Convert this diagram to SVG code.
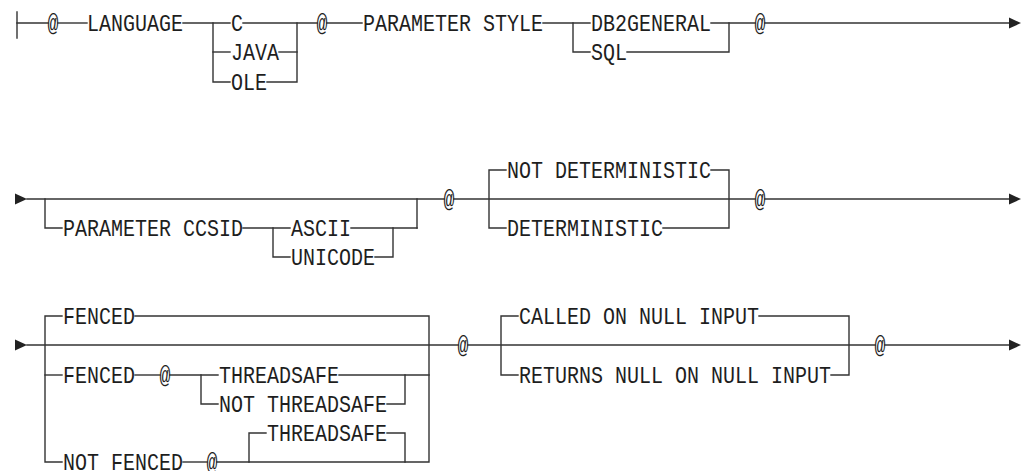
<svg xmlns="http://www.w3.org/2000/svg" width="1024" height="471" viewBox="0 0 1024 471">
<style>
.t{font-family:"Liberation Mono","DejaVu Sans Mono",monospace;font-size:23px;fill:#1e1e1e}
.m{text-anchor:middle}
.c line,.c polyline{stroke:#333;stroke-width:1.4;fill:none;stroke-linecap:square}
.a{fill:#222}
</style>
<defs>
<path id="ah" d="M0,-5.5 L12,0 L0,5.5 Z"/>
</defs>
<rect width="1024" height="471" fill="#fff"/>
<g class="c" id="connectors">
<!-- row 1 -->
<line x1="17" y1="12" x2="17" y2="38"/>
<line x1="17" y1="23" x2="48" y2="23"/>
<line x1="58" y1="23" x2="87" y2="23"/>
<line x1="183" y1="23" x2="230" y2="23"/>
<line x1="243" y1="23" x2="317" y2="23"/>
<line x1="327" y1="23" x2="362" y2="23"/>
<line x1="543" y1="23" x2="590" y2="23"/>
<line x1="711" y1="23" x2="755" y2="23"/>
<line x1="765" y1="23" x2="1010" y2="23"/>
<polyline points="213,23 213,82 230,82"/>
<line x1="213" y1="52" x2="230" y2="52"/>
<line x1="279" y1="52" x2="297" y2="52"/>
<polyline points="267,82 297,82 297,23"/>
<polyline points="573,23 573,52 590,52"/>
<polyline points="627,52 729,52 729,23"/>
<use href="#ah" class="a" x="1009" y="23"/>
<!-- row 2 -->
<use href="#ah" class="a" x="15" y="199"/>
<line x1="27" y1="199" x2="444" y2="199"/>
<polyline points="45,199 45,228 62,228"/>
<line x1="243" y1="228" x2="290" y2="228"/>
<line x1="351" y1="228" x2="417" y2="228"/>
<line x1="417" y1="228" x2="417" y2="199"/>
<polyline points="273,228 273,257 290,257"/>
<polyline points="375,257 393,257 393,228"/>
<line x1="454" y1="199" x2="755" y2="199"/>
<polyline points="506,170 489,170 489,228 506,228"/>
<polyline points="711,170 729,170 729,228 663,228"/>
<line x1="765" y1="199" x2="1010" y2="199"/>
<use href="#ah" class="a" x="1009" y="199"/>
<!-- row 3 -->
<use href="#ah" class="a" x="15" y="345"/>
<line x1="27" y1="345" x2="458" y2="345"/>
<polyline points="62,316 45,316 45,462 62,462"/>
<line x1="45" y1="375" x2="62" y2="375"/>
<polyline points="135,316 429,316 429,462 217,462"/>
<line x1="135" y1="375" x2="160" y2="375"/>
<line x1="170" y1="375" x2="218" y2="375"/>
<line x1="339" y1="375" x2="429" y2="375"/>
<polyline points="201,375 201,404 218,404"/>
<polyline points="387,404 405,404 405,375"/>
<line x1="183" y1="462" x2="207" y2="462"/>
<polyline points="249,462 249,433 266,433"/>
<polyline points="387,433 405,433 405,462"/>
<line x1="468" y1="345" x2="875" y2="345"/>
<polyline points="518,316 501,316 501,375 518,375"/>
<polyline points="759,316 849,316 849,375 831,375"/>
<line x1="885" y1="345" x2="1010" y2="345"/>
<use href="#ah" class="a" x="1009" y="345"/>
</g>
<g id="n-at1"><text class="t m" x="53" y="30.5" textLength="11" lengthAdjust="spacingAndGlyphs">@</text></g>
<g id="n-language"><text class="t" x="87" y="30.5" textLength="96" lengthAdjust="spacingAndGlyphs">LANGUAGE</text></g>
<g id="n-c"><text class="t" x="231" y="30.5" textLength="12" lengthAdjust="spacingAndGlyphs">C</text></g>
<g id="n-java"><text class="t" x="231" y="59.5" textLength="48" lengthAdjust="spacingAndGlyphs">JAVA</text></g>
<g id="n-ole"><text class="t" x="231" y="89.5" textLength="36" lengthAdjust="spacingAndGlyphs">OLE</text></g>
<g id="n-at2"><text class="t m" x="322" y="30.5" textLength="11" lengthAdjust="spacingAndGlyphs">@</text></g>
<g id="n-pstyle"><text class="t" x="363" y="30.5" textLength="180" lengthAdjust="spacingAndGlyphs">PARAMETER STYLE</text></g>
<g id="n-db2general"><text class="t" x="591" y="30.5" textLength="120" lengthAdjust="spacingAndGlyphs">DB2GENERAL</text></g>
<g id="n-sql"><text class="t" x="591" y="59.5" textLength="36" lengthAdjust="spacingAndGlyphs">SQL</text></g>
<g id="n-at3"><text class="t m" x="760" y="30.5" textLength="11" lengthAdjust="spacingAndGlyphs">@</text></g>
<g id="n-ccsid"><text class="t" x="63" y="235.5" textLength="180" lengthAdjust="spacingAndGlyphs">PARAMETER CCSID</text></g>
<g id="n-ascii"><text class="t" x="291" y="235.5" textLength="60" lengthAdjust="spacingAndGlyphs">ASCII</text></g>
<g id="n-unicode"><text class="t" x="291" y="264.5" textLength="84" lengthAdjust="spacingAndGlyphs">UNICODE</text></g>
<g id="n-at4"><text class="t m" x="449" y="206.5" textLength="11" lengthAdjust="spacingAndGlyphs">@</text></g>
<g id="n-notdet"><text class="t" x="507" y="177.5" textLength="204" lengthAdjust="spacingAndGlyphs">NOT DETERMINISTIC</text></g>
<g id="n-det"><text class="t" x="507" y="235.5" textLength="156" lengthAdjust="spacingAndGlyphs">DETERMINISTIC</text></g>
<g id="n-at5"><text class="t m" x="760" y="206.5" textLength="11" lengthAdjust="spacingAndGlyphs">@</text></g>
<g id="n-fenced1"><text class="t" x="63" y="323.5" textLength="72" lengthAdjust="spacingAndGlyphs">FENCED</text></g>
<g id="n-fenced2"><text class="t" x="63" y="382.5" textLength="72" lengthAdjust="spacingAndGlyphs">FENCED</text></g>
<g id="n-at6"><text class="t m" x="165" y="382.5" textLength="11" lengthAdjust="spacingAndGlyphs">@</text></g>
<g id="n-ts1"><text class="t" x="219" y="382.5" textLength="120" lengthAdjust="spacingAndGlyphs">THREADSAFE</text></g>
<g id="n-nts"><text class="t" x="219" y="411.5" textLength="168" lengthAdjust="spacingAndGlyphs">NOT THREADSAFE</text></g>
<g id="n-notfenced"><text class="t" x="63" y="469.5" textLength="120" lengthAdjust="spacingAndGlyphs">NOT FENCED</text></g>
<g id="n-at7"><text class="t m" x="212" y="469.5" textLength="11" lengthAdjust="spacingAndGlyphs">@</text></g>
<g id="n-ts2"><text class="t" x="267" y="440.5" textLength="120" lengthAdjust="spacingAndGlyphs">THREADSAFE</text></g>
<g id="n-at8"><text class="t m" x="463" y="352.5" textLength="11" lengthAdjust="spacingAndGlyphs">@</text></g>
<g id="n-called"><text class="t" x="519" y="323.5" textLength="240" lengthAdjust="spacingAndGlyphs">CALLED ON NULL INPUT</text></g>
<g id="n-returns"><text class="t" x="519" y="382.5" textLength="312" lengthAdjust="spacingAndGlyphs">RETURNS NULL ON NULL INPUT</text></g>
<g id="n-at9"><text class="t m" x="880" y="352.5" textLength="11" lengthAdjust="spacingAndGlyphs">@</text></g>
</svg>
